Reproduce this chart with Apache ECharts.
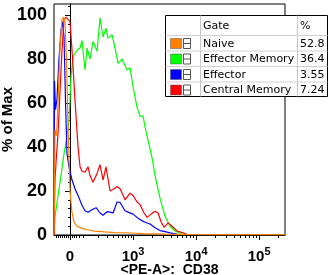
<!DOCTYPE html>
<html>
<head>
<meta charset="utf-8">
<script src="https://cdn.jsdelivr.net/npm/echarts@6/dist/echarts.min.js"></script>
<style>
  html, body { margin: 0; padding: 0; background: #fff; }
  #main { width: 335px; height: 275px; }
</style>
</head>
<body>
<div id="main"></div>
<script>
// x is in display units of the logicle axis: 0 = 0, 1 = 10^3, 2 = 10^4, 3 = 10^5
var naiveX = [-0.254, -0.238, -0.214, -0.19, -0.159, -0.127, -0.103, -0.079, -0.056, -0.032, 0, 0.032, 0.063, 0.111, 0.19, 0.27, 0.397, 0.556, 0.714, 0.952, 1.19, 1.508, 1.905, 2.381, 3.413];
var naiveY = [0, 48, 45, 60, 85, 98, 99, 97, 80, 50, 20, 10, 6, 4, 3, 2.4, 1.8, 1.4, 1.1, 0.9, 0.6, 0.4, 0.2, 0.1, 0.1];

var effMemX = [-0.254, -0.238, -0.19, -0.143, -0.095, -0.048, -0.016, 0.016, 0.048, 0.079, 0.111, 0.159, 0.19, 0.238, 0.27, 0.317, 0.365, 0.429, 0.476, 0.524, 0.571, 0.603, 0.667, 0.714, 0.762, 0.825, 0.905, 0.952, 1.0, 1.063, 1.111, 1.159, 1.19, 1.238, 1.302, 1.349, 1.429, 1.508, 1.587, 1.667, 1.746, 1.825];
var effMemY = [0, 8.5, 18, 27, 37, 45, 52, 72, 81, 82.6, 84, 85, 88.5, 75, 85, 80, 88, 83.5, 98.7, 90, 94, 89.5, 91, 85, 78, 80, 75, 76, 67.5, 58, 54, 54, 49, 43, 35, 27, 16.5, 8.5, 4, 1.8, 0.7, 0];

var effX = [-0.254, -0.246, -0.23, -0.206, -0.175, -0.143, -0.119, -0.095, -0.071, -0.048, -0.016, 0.032, 0.079, 0.127, 0.19, 0.238, 0.286, 0.349, 0.413, 0.476, 0.524, 0.587, 0.635, 0.683, 0.746, 0.794, 0.873, 0.921, 0.952, 1.0, 1.063, 1.111, 1.19, 1.27, 1.349, 1.429, 1.508, 1.587, 1.667, 1.746];
var effY = [0, 70, 57, 62, 80, 93, 97, 90, 60, 37, 31, 25, 21, 18, 13.5, 11, 10.3, 11.5, 12.4, 10, 9, 10.6, 10.4, 10, 15, 14.8, 11, 10.4, 10.5, 9.5, 8, 7, 5.8, 5, 3.3, 2, 1.5, 1, 0.5, 0];

var cenMemX = [-0.254, -0.238, -0.222, -0.19, -0.159, -0.127, -0.095, -0.063, -0.032, 0, 0.032, 0.079, 0.127, 0.159, 0.19, 0.238, 0.286, 0.317, 0.365, 0.429, 0.476, 0.524, 0.571, 0.635, 0.698, 0.746, 0.794, 0.873, 0.952, 1.0, 1.063, 1.111, 1.175, 1.222, 1.286, 1.349, 1.397, 1.444, 1.492, 1.556, 1.619, 1.698, 1.794, 1.873];
var cenMemY = [0, 25, 33, 46, 65, 84, 98, 99, 99, 97, 84, 61.5, 40, 31, 29, 28.5, 31, 27, 24, 28, 32, 25, 31, 20, 21, 22, 21, 16, 19, 18, 15, 13.8, 10, 8, 9.5, 10.8, 10, 6, 3.5, 5.5, 4, 1.8, 1, 0];

var gateNames = ['Naive', 'Effector Memory', 'Effector', 'Central Memory'];
var gatePct = ['52.8', '36.4', '3.55', '7.24'];
var gateColors = ['#ff8000', '#00ff00', '#0000ff', '#ff0000'];

var yTicks = [0, 20, 40, 60, 80, 100];
var xMajor = [0, 1, 2, 3];
var xMinorLow = [-0.222, -0.19, -0.159, -0.127, -0.095, -0.063, -0.032, 0.032, 0.063, 0.095, 0.143, 0.206, 0.444, 0.587, 0.683, 0.762, 0.825, 0.873, 0.921, 0.968];

var X_MIN = -0.254, X_MAX = 3.41;
var FONT = "'Liberation Sans', Arial, Helvetica, sans-serif";

function pairs(xs, ys) {
  return xs.map(function (x, i) { return [x, ys[i]]; });
}

// minor ticks for the log decades above 10^3
var xMinor = xMinorLow.slice();
for (var d = 1; d <= 3; d++) {
  for (var k = 2; k <= 9; k++) {
    var t = d + Math.log10(k);
    if (t < X_MAX) xMinor.push(t);
  }
}
var yMinor = [];
for (var v = 4; v <= 104; v += 4) {
  if (v % 20 !== 0) yMinor.push(v);
}

var chart = echarts.init(document.getElementById('main'));

function line(name, data, color) {
  return {
    name: name,
    type: 'line',
    data: data,
    showSymbol: false,
    symbol: 'none',
    lineStyle: { color: color, width: 1.2 },
    itemStyle: { color: color },
    animation: false
  };
}

// table legend in the top right corner
var tbl = [];
var L = 165.5, R = 327.5, T = 15.5, B = 96.5;
tbl.push({ type: 'rect', shape: { x: L, y: T, width: R - L, height: B - T }, style: { fill: '#fff', stroke: '#000', lineWidth: 1 } });
[200.5, 297.5].forEach(function (x) {
  tbl.push({ type: 'line', shape: { x1: x, y1: T, x2: x, y2: B }, style: { stroke: '#c8c8c8', lineWidth: 1 } });
});
[35.5, 51, 66.5, 82].forEach(function (y) {
  tbl.push({ type: 'line', shape: { x1: L, y1: y, x2: R, y2: y }, style: { stroke: '#d0d0d0', lineWidth: 1 } });
});
var tfont = { fontFamily: 'DejaVu Sans', fontSize: 11, fill: '#000', textVerticalAlign: 'middle' };
tbl.push({ type: 'text', style: Object.assign({ x: 203, y: 26, text: 'Gate' }, tfont) });
tbl.push({ type: 'text', style: Object.assign({ x: 300, y: 26, text: '%' }, tfont) });
gateNames.forEach(function (g, i) {
  var cy = 43.5 + i * 15.5;
  tbl.push({ type: 'rect', shape: { x: 170.5, y: cy - 5, width: 11, height: 10 }, style: { fill: gateColors[i], stroke: '#555', lineWidth: 0.5 } });
  tbl.push({ type: 'rect', shape: { x: 183.5, y: cy - 5, width: 7, height: 10 }, style: { fill: '#fff', stroke: '#555', lineWidth: 1 } });
  tbl.push({ type: 'line', shape: { x1: 183.5, y1: cy, x2: 190.5, y2: cy }, style: { stroke: '#555', lineWidth: 1 } });
  tbl.push({ type: 'text', style: Object.assign({ x: 203, y: cy + 0.5, text: g }, tfont) });
  tbl.push({ type: 'text', style: Object.assign({ x: 300, y: cy + 0.5, text: gatePct[i] }, tfont) });
});

var option = {
  animation: false,
  grid: {
    left: 54, right: 50, top: 4, bottom: 40,
    containLabel: false, outerBoundsMode: 'none',
    show: true, borderColor: '#000', borderWidth: 1
  },
  xAxis: [
    {
      type: 'value',
      min: X_MIN,
      max: X_MAX,
      name: '<PE-A>:  CD38',
      nameLocation: 'middle',
      nameGap: 28,
      nameMoveOverlap: false,
      nameTextStyle: { fontFamily: FONT, fontWeight: 'bold', fontSize: 14, color: '#000' },
      axisLine: { show: true, lineStyle: { color: '#000', width: 1 } },
      axisTick: { show: true, length: 5, customValues: xMajor, lineStyle: { color: '#000' } },
      axisLabel: {
        customValues: xMajor,
        margin: 11,
        formatter: function (v) {
          return v === 0 ? '{b|0}' : '{b|10}{s|' + (v + 2) + '}';
        },
        rich: {
          b: { fontFamily: FONT, fontWeight: 'bold', fontSize: 15, color: '#000', lineHeight: 22 },
          s: { fontFamily: FONT, fontWeight: 'bold', fontSize: 11, color: '#000', lineHeight: 12, verticalAlign: 'top' }
        }
      },
      splitLine: { show: false }
    },
    {
      type: 'value',
      min: X_MIN,
      max: X_MAX,
      position: 'bottom',
      axisLine: { show: false },
      axisTick: { show: true, length: 3, customValues: xMinor, lineStyle: { color: '#000' } },
      axisLabel: { show: false },
      splitLine: { show: false }
    }
  ],
  yAxis: [
    {
      type: 'value',
      min: 0,
      max: 105,
      name: '% of Max',
      nameLocation: 'middle',
      nameGap: 39,
      nameMoveOverlap: false,
      nameTextStyle: { fontFamily: FONT, fontWeight: 'bold', fontSize: 15, color: '#000' },
      axisLine: { show: true, lineStyle: { color: '#000', width: 1 } },
      axisTick: { show: true, length: 5, customValues: yTicks, lineStyle: { color: '#000' } },
      axisLabel: { customValues: yTicks, margin: 7, fontFamily: FONT, fontWeight: 'bold', fontSize: 18, color: '#000' },
      splitLine: { show: false }
    },
    {
      type: 'value',
      min: 0,
      max: 105,
      position: 'left',
      axisLine: { show: false },
      axisTick: { show: true, length: 2, customValues: yMinor, lineStyle: { color: '#000' } },
      axisLabel: { show: false },
      splitLine: { show: false }
    }
  ],
  series: [
    line(gateNames[1], pairs(effMemX, effMemY), gateColors[1]),
    line(gateNames[2], pairs(effX, effY), gateColors[2]),
    line(gateNames[3], pairs(cenMemX, cenMemY), gateColors[3]),
    line(gateNames[0], pairs(naiveX, naiveY), gateColors[0])
  ],
  graphic: [{ type: 'group', z: 100, children: tbl }]
};

option && chart.setOption(option);
</script>
</body>
</html>
